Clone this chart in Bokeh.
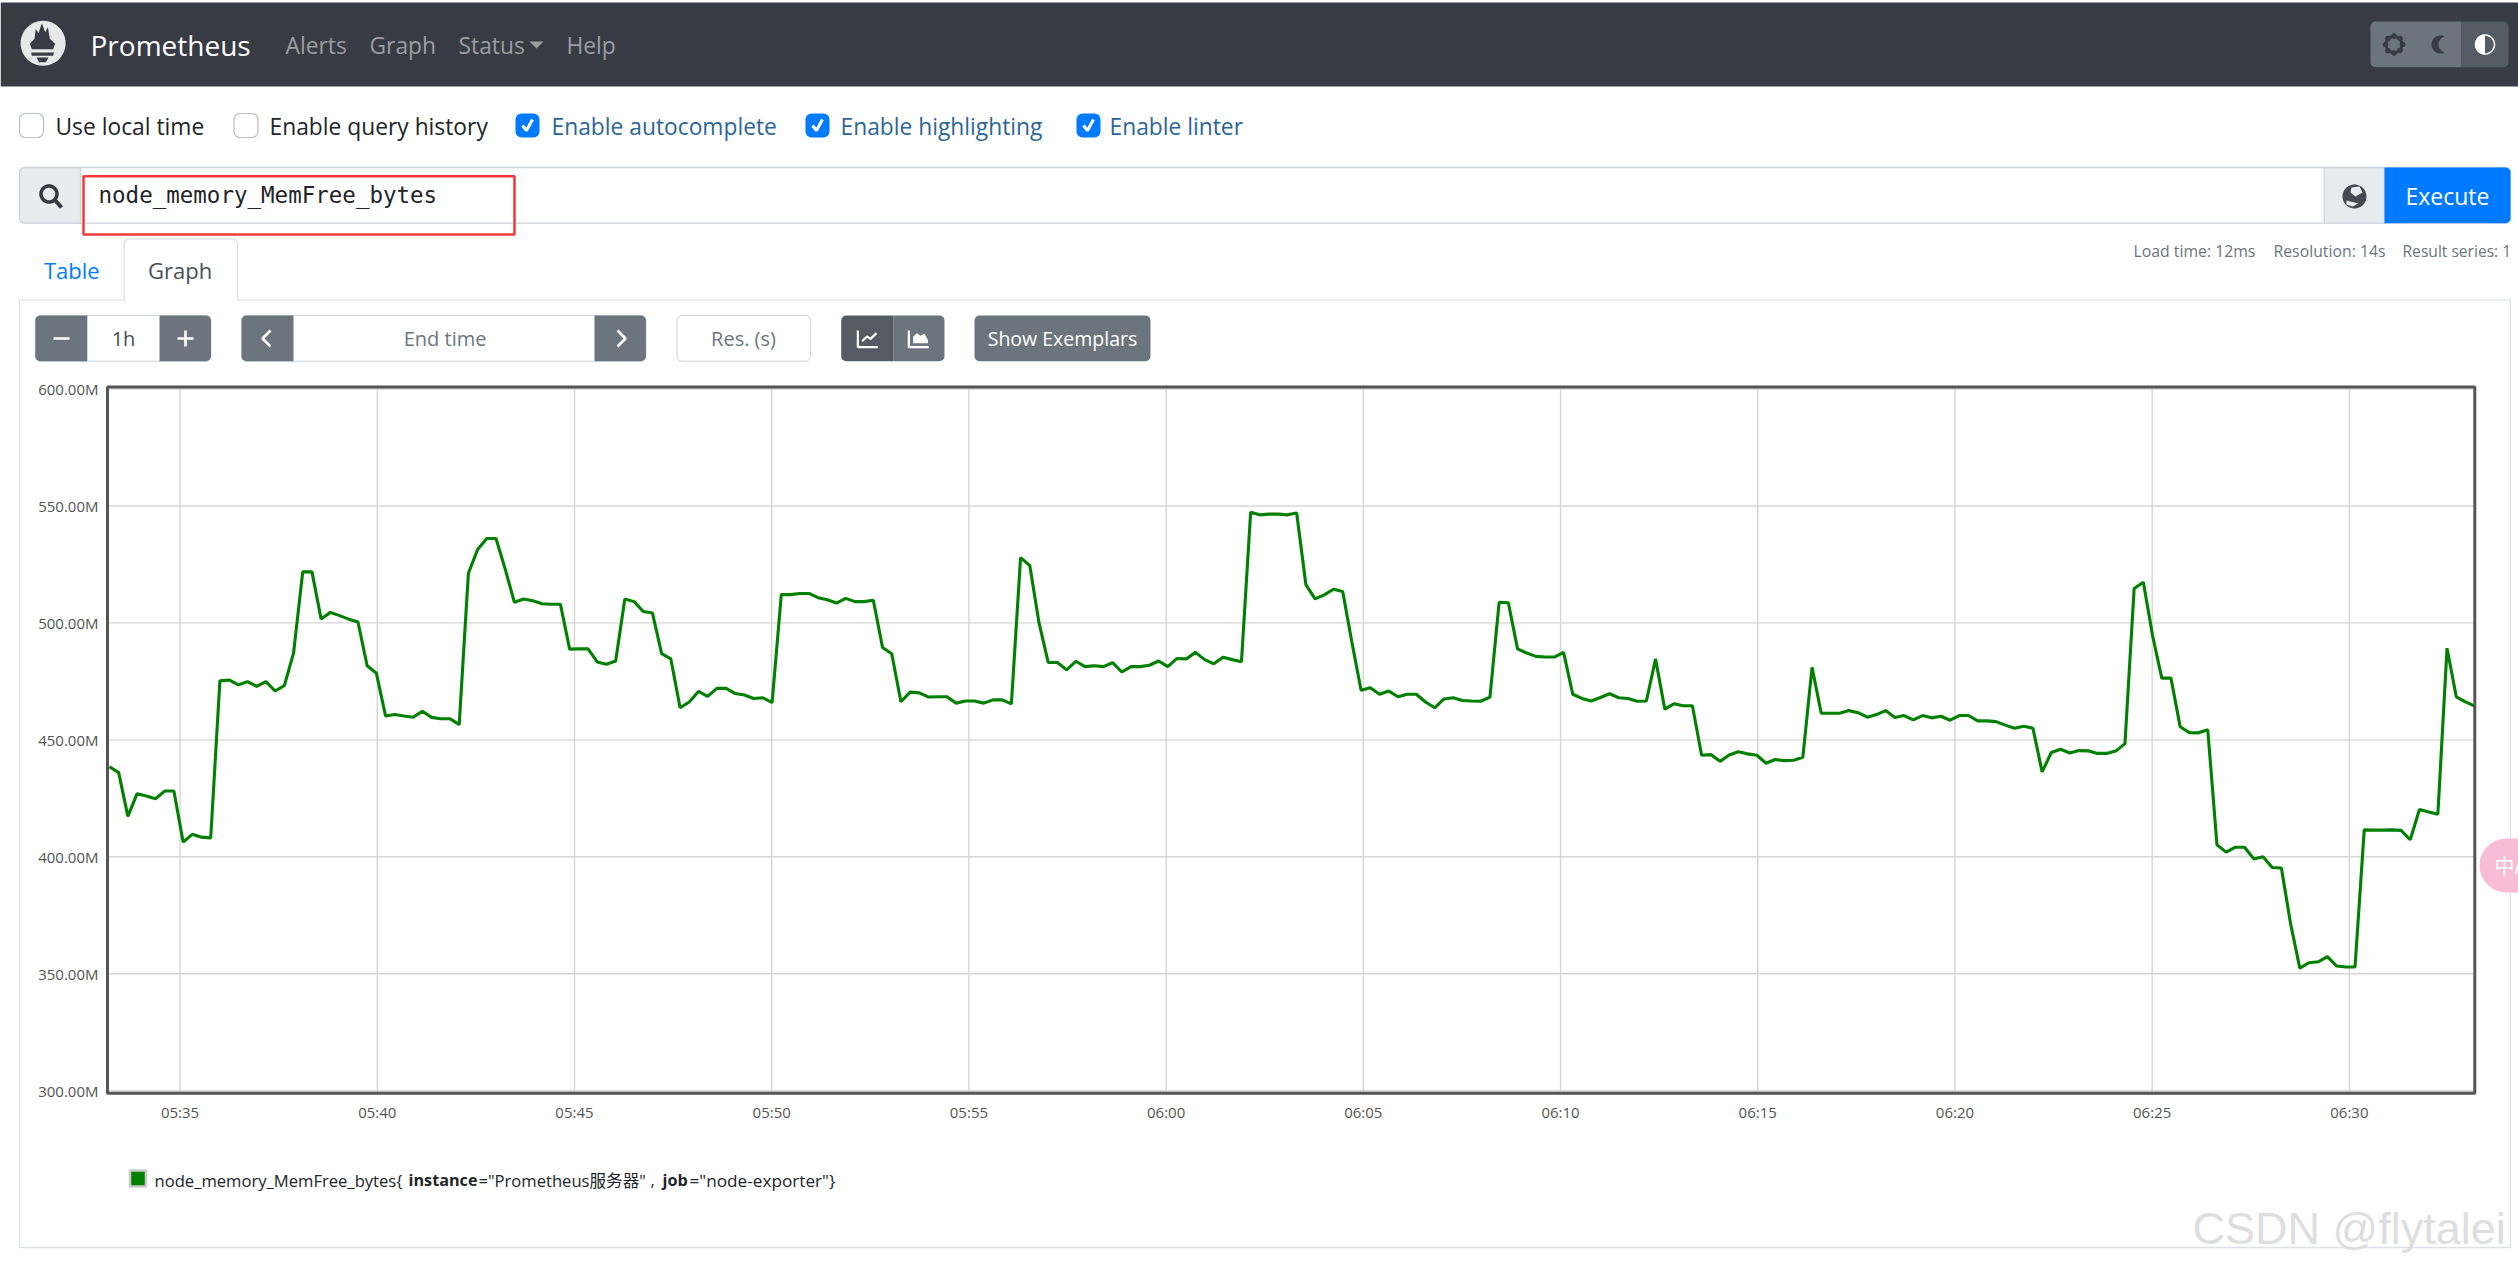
import math
import pandas as pd
from bokeh.embed import file_html
from bokeh.models import (BoxAnnotation, DatetimeTickFormatter, FixedTicker, Label,
                          PolyAnnotation, PrintfTickFormatter, Range1d)
from bokeh.plotting import figure
from bokeh.resources import INLINE

# node_memory_MemFree_bytes in millions, one sample every 14s
mem_free_a = [438.5, 436, 417.3, 427, 426, 424.8, 428.1, 428.1, 406.3, 409.6, 408.4, 408.1,
              475.2, 475.6, 473.5, 474.9, 472.9, 474.9, 470.9, 473.2, 487.1, 521.8, 521.8, 501.7,
              504.5, 503.1, 501.6, 500.4, 481.7, 478.5, 460.2, 460.8, 460.2, 459.7, 462.2, 459.6,
              459, 459, 456.5, 521.2, 531.4, 536.1, 536.1, 523, 508.8, 510.2, 509.5, 508.2,
              508, 508, 488.8, 488.9, 488.9, 483.3, 482.3, 483.7, 510.2, 509.1]
mem_free_b = [504.9, 504.2, 486.9, 484.6, 463.7, 466.2, 470.7, 468.6, 472, 472, 469.8, 469.2,
              467.7, 468, 465.9, 512.1, 512.1, 512.6, 512.6, 510.8, 509.9, 508.5, 510.5, 509.1,
              509.1, 509.7, 489.5, 486.8, 466.3, 470.4, 470.1, 468.3, 468.4, 468.4, 465.7, 466.6,
              466.6, 465.7, 467.1, 467.1, 465.4, 527.9, 524.5, 500.1, 483.1, 483.1, 479.9, 483.6,
              481.3, 481.7, 481.3, 483, 479, 481.3, 481.3, 481.9, 483.7, 481.3, 484.8, 484.6,
              487.4, 484.3, 482.5, 485.3, 484.3, 483.4, 547.3, 546.2, 546.5, 546.5]
mem_free_c = [546.2, 547, 516.4, 510.3, 512, 514.4, 513.4, 491.7, 471.2, 472.3, 469.5, 470.9,
              468.4, 469.5, 469.5, 466.2, 463.7, 467.5, 468, 466.8, 466.6, 466.5, 468.3, 508.8,
              508.6, 488.9, 487.1, 485.7, 485.4, 485.4, 487.4, 469.5, 467.7, 466.6, 468.1, 469.7,
              468, 467.7, 466.5, 466.6, 484.6, 463.1, 465.4, 464.6, 464.6, 443.4, 443.7, 440.8,
              443.5, 444.9, 444, 443.4, 440, 441.6, 441.1, 441.3, 442.6, 481, 461.4, 461.4,
              461.4, 462.5, 461.6, 459.7, 460.8, 462.5, 459.6]
mem_free_d = [460.4, 458.5, 460.4, 459.4, 460.1, 458.4, 460.4, 460.4, 458.1, 458.1, 457.8, 456.3,
              455, 455.8, 455, 436.3, 444.6, 446, 444.4, 445.4, 445.3, 444.2, 444.2, 445.2,
              448.4, 514.7, 517.4, 494.6, 476.4, 476.4, 455.6, 453.1, 453, 454.3, 405.1, 402,
              404.1, 404.1, 399.1, 400, 395.4, 395.2, 371.4, 352.4, 354.7, 355.1, 357.3, 353.3,
              352.9, 352.9, 411.5, 411.4, 411.4, 411.5, 411.3, 407.3, 420.2, 419.2, 418.2, 489.2,
              468.4, 466.2, 464.4]
mem_free = mem_free_a + mem_free_b + mem_free_c + mem_free_d

x_tick_labels = ["05:35", "05:40", "05:45", "05:50", "05:55", "06:00",
                 "06:05", "06:10", "06:15", "06:20", "06:25", "06:30"]
y_ticks = [300, 350, 400, 450, 500, 550, 600]

FONT = "'Open Sans', 'Noto Sans CJK SC'"
MONO = "'DejaVu Sans Mono'"
GREY = "#6c757d"
GREY_DARK = "#545b62"
BLUE = "#007bff"
NAV = "#383b43"
BORDER = "#ced4da"

W, H = 2518, 1269
# where the graph box sits on the page
BOX_L, BOX_R, BOX_T, BOX_B = 107, 2474.3, 386.4, 1092.7

times = pd.date_range("2025-01-01 05:33:12.6", periods=len(mem_free), freq="14s")
day = "2025-01-01 "
tick_ms = [pd.Timestamp(day + t).timestamp() * 1000 for t in x_tick_labels]
t_low = pd.Timestamp(day + "05:33:09.6").timestamp() * 1000
t_high = pd.Timestamp(day + "06:33:10.8").timestamp() * 1000
y_low, y_high = 298.93, 600.9

# the frame fills the whole page, the ranges are stretched so the graph box lands in place
ms_per_px = (t_high - t_low) / (BOX_R - BOX_L)
m_per_px = (y_high - y_low) / (BOX_B - BOX_T)

p = figure(
    width=W,
    height=H,
    x_axis_type="datetime",
    x_range=Range1d(t_low - BOX_L * ms_per_px, t_high + (W - BOX_R) * ms_per_px),
    y_range=Range1d(y_low - (H - BOX_B) * m_per_px, y_high + BOX_T * m_per_px),
    output_backend="svg",
    toolbar_location=None,
    min_border=0,
    margin=(0, 0, 0, 0),
    background_fill_color="white",
    border_fill_color="white",
)
p.outline_line_color = None
p.grid.visible = False

p.segment(tick_ms, y_low, tick_ms, y_high, line_color="#d6d6d6", line_width=1.4)
p.segment(t_low, y_ticks, t_high, y_ticks, line_color="#d6d6d6", line_width=1.4)
p.line(times, mem_free, line_color="#008000", line_width=3.1)
p.quad(left=[t_low], right=[t_high], bottom=[y_low], top=[y_high], fill_color=None,
       line_color="#545454", line_width=3)

p.xaxis.fixed_location = y_low
p.yaxis.fixed_location = t_low
p.xaxis.ticker = FixedTicker(ticks=tick_ms)
p.xaxis.formatter = DatetimeTickFormatter(seconds="%H:%M", minsec="%H:%M", minutes="%H:%M",
                                          hourmin="%H:%M", hours="%H:%M")
p.yaxis.ticker = FixedTicker(ticks=y_ticks)
p.yaxis.formatter = PrintfTickFormatter(format="%.2fM")
for ax in (p.xaxis[0], p.yaxis[0]):
    ax.axis_line_color = None
    ax.major_tick_line_color = None
    ax.minor_tick_line_color = None
    ax.major_label_text_color = "#545454"
    ax.major_label_text_font = FONT
    ax.major_label_text_font_size = "15px"
p.xaxis.major_label_standoff = 3
p.yaxis.major_label_standoff = 3


# page furniture, all in canvas pixels
def box(left, top, right, bottom, fill=None, line=None, lw=1, radius=0):
    p.add_layout(BoxAnnotation(
        left=left, right=right, top=top, bottom=bottom,
        left_units="canvas", right_units="canvas", top_units="canvas", bottom_units="canvas",
        fill_color=fill, fill_alpha=1 if fill else 0,
        line_color=line, line_alpha=1 if line else 0, line_width=lw,
        border_radius=radius,
    ))


def text(x, y, s, size=20, color="#212529", align="left", font=FONT, style="normal", alpha=1):
    p.add_layout(Label(
        x=x, y=y, x_units="canvas", y_units="canvas", text=s, text_font=font,
        text_font_size=f"{size}px", text_color=color, text_align=align, text_alpha=alpha,
        text_baseline="middle", text_font_style=style,
    ))


def poly(pts, fill=None, line=None, lw=1):
    p.add_layout(PolyAnnotation(
        xs=[a for a, _ in pts], ys=[b for _, b in pts],
        xs_units="canvas", ys_units="canvas",
        fill_color=fill, fill_alpha=1 if fill else 0,
        line_color=line, line_alpha=1 if line else 0, line_width=lw,
    ))


def arc(cx, cy, r, a0=0, a1=360, n=48):
    return [(cx + r * math.cos(math.radians(a0 + (a1 - a0) * i / n)),
             cy + r * math.sin(math.radians(a0 + (a1 - a0) * i / n))) for i in range(n + 1)]


def shift(pts, dx, dy, k=1 / 3):
    return [(a * k + dx, b * k + dy) for a, b in pts]


# navbar
box(0, 2, W, 86, fill=NAV)
poly(arc(42.6, 42.8, 22.5), fill="#e8e8e8")
poly(shift([(58, 100), (72, 85), (76, 55), (84, 68), (94, 38), (104, 65), (112, 50), (118, 85),
            (134, 100), (128, 116), (64, 116)], 10, 10), fill=NAV)
poly(shift([(62, 126), (130, 126), (128, 136), (64, 136)], 10, 10), fill=NAV)
poly(shift([(78, 141), (114, 141), (106, 155), (86, 155)], 10, 10), fill=NAV)
text(90, 44, "Prometheus", 28, "#ffffff")
nav_muted = "#9b9da1"
text(285, 45, "Alerts", 22.8, nav_muted)
text(369, 45, "Graph", 22.8, nav_muted)
text(458, 45, "Status", 22.8, nav_muted)
poly([(529, 41), (543, 41), (536, 48)], fill=nav_muted)
text(566, 45, "Help", 22.8, nav_muted)

box(2370, 21, 2461, 66.7, fill=GREY, radius=(5, 0, 0, 5))
box(2461, 21, 2508, 66.7, fill=GREY_DARK, radius=(0, 5, 5, 0))
for i in range(8):
    a = i * 45
    poly(arc(2393.5 + 8.5 * math.cos(math.radians(a)), 44 + 8.5 * math.sin(math.radians(a)), 3, n=8),
         fill=NAV)
poly(arc(2393.5, 44, 8), line=NAV, lw=3)
poly(arc(2440, 44, 9, 65, 295, 24) + arc(2446, 44, 8, 245, 115, 24), fill=NAV)
poly(arc(2484.5, 44, 9.5), line="#ffffff", lw=1.5)
poly(arc(2484.5, 44, 9.5, 90, 270, 24), fill="#ffffff")

# settings row
checks = [(19, False, "Use local time", 55), (233.5, False, "Enable query history", 269),
          (515, True, "Enable autocomplete", 551), (805, True, "Enable highlighting", 840),
          (1076, True, "Enable linter", 1109)]
for bx, on, label, tx in checks:
    if on:
        box(bx, 113, bx + 24, 137, fill=BLUE, radius=6)
        poly([(bx + 7, 125), (bx + 11, 130), (bx + 17, 119), (bx + 11, 130)], line="#ffffff", lw=3)
    else:
        box(bx, 113, bx + 24, 137, line="#b8bec4", lw=1.2, radius=6)
    text(tx, 126, label, 22.8, "#2b6698" if on else "#212529")

# query bar
box(19, 167, 2510, 222.7, line=BORDER, lw=1.3, radius=5)
box(19, 167, 80, 222.7, fill="#e9ecef", line=BORDER, lw=1.3, radius=(5, 0, 0, 5))
poly(arc(48.5, 193.5, 8), line="#343a40", lw=3.5)
poly([(54, 199), (61, 207)], line="#343a40", lw=4)
box(2323.7, 167, 2384, 222.7, fill="#e9ecef", line=BORDER, lw=1.3)
poly(arc(2354, 196, 12), fill="#454a50")
poly([(2351, 187), (2359, 186), (2362, 192), (2355, 196), (2350, 192)], fill="#e9ecef")
poly([(2346, 200), (2358, 203), (2352, 206), (2346, 204)], fill="#e9ecef")
box(2384, 167, 2510, 222.7, fill=BLUE, radius=(0, 5, 5, 0))
text(2447, 195.5, "Execute", 23, "#ffffff", align="center")
text(98, 194, "node_memory_MemFree_bytes", 22.5, "#212529", font=MONO)
box(83, 175.7, 514, 234, line="#f03a3a", lw=2.5)

text(2133, 250.5, "Load time: 12ms", 15.8, GREY)
text(2273, 250.5, "Resolution: 14s", 15.8, GREY)
text(2402, 250.5, "Result series: 1", 15.6, GREY)

# tabs and panel
box(19, 299.3, 2510, 1247, line="#dee2e6", lw=1.3)
box(123.7, 238.3, 237, 300.5, fill="#ffffff", line="#dee2e6", lw=1.3, radius=(5, 5, 0, 0))
box(124.5, 296, 236.2, 302, fill="#ffffff")
text(43.4, 269, "Table", 22, BLUE)
text(147.5, 269, "Graph", 22, "#495057")

# graph controls
y0, y1 = 315, 360.7
box(34.8, y0, 210.5, y1, line=BORDER, lw=1, radius=5)
box(34.8, y0, 86.8, y1, fill=GREY, radius=(5, 0, 0, 5))
box(159, y0, 210.5, y1, fill=GREY, radius=(0, 5, 5, 0))
poly([(53, 338), (69, 338)], line="#ffffff", lw=2.6)
poly([(177, 338), (193, 338)], line="#ffffff", lw=2.6)
poly([(185, 330), (185, 346)], line="#ffffff", lw=2.6)
text(123, 338, "1h", 20, "#495057", align="center")

box(241, y0, 645.4, y1, line=BORDER, lw=1, radius=5)
box(241, y0, 293, y1, fill=GREY, radius=(5, 0, 0, 5))
box(594, y0, 645.4, y1, fill=GREY, radius=(0, 5, 5, 0))
poly([(270, 330), (262, 338), (270, 346), (262, 338)], line="#ffffff", lw=2.6)
poly([(617, 330), (625, 338), (617, 346), (625, 338)], line="#ffffff", lw=2.6)
text(444.6, 338, "End time", 20, GREY, align="center")

box(676.5, y0, 810, y1, line=BORDER, lw=1, radius=5)
text(743, 338, "Res. (s)", 20, GREY, align="center")

box(840.7, y0, 892.7, y1, fill=GREY_DARK, radius=(5, 0, 0, 5))
box(892.7, y0, 944, y1, fill=GREY, radius=(0, 5, 5, 0))
poly(shift([(112, 90), (112, 140), (172, 140), (112, 140)], 820, 300), line="#ffffff", lw=2.2)
poly(shift([(125, 122), (140, 108), (150, 115), (168, 98), (150, 115), (140, 108)], 820, 300),
     line="#ffffff", lw=2.2)
poly(shift([(265, 90), (265, 140), (325, 140), (265, 140)], 820, 300), line="#ffffff", lw=2.2)
poly(shift([(278, 128), (278, 108), (290, 98), (300, 106), (312, 100), (322, 118), (322, 128)], 820, 300),
     fill="#ffffff")
box(974, y0, 1150, y1, fill=GREY, radius=5)
text(1062, 337.5, "Show Exemplars", 19.5, "#ffffff", align="center")

# legend
box(129.5, 1170, 145.5, 1186, fill="#008000", line="#cccccc", lw=2.5)
legend_parts = [(154, 'node_memory_MemFree_bytes{', "normal", 16.6), (408, "instance", "bold", 16.2),
                (478, '="Prometheus服务器"', "normal", 16.6), (650, ",", "normal", 16.6),
                (662, "job", "bold", 16.2), (689, '="node-exporter"}', "normal", 17.2)]
for lx, part, weight, fs in legend_parts:
    text(lx, 1179.5, part, fs, "#212529", style=weight)

# bits of the page around the chart
text(2369, 1276, "Remove Panel", 22, BLUE)
text(2192, 1228, "CSDN @flytalei", 45, "#dedede", font="'Liberation Sans'")
poly(arc(2506, 865, 27, 90, 270, 24) + [(W, 838), (W, 892)], fill="#f9bcd6")
text(2494, 865, "中A", 20, "#ffffff", font="'Noto Sans CJK SC'")

open("out.html", "w").write(file_html(p, INLINE))
